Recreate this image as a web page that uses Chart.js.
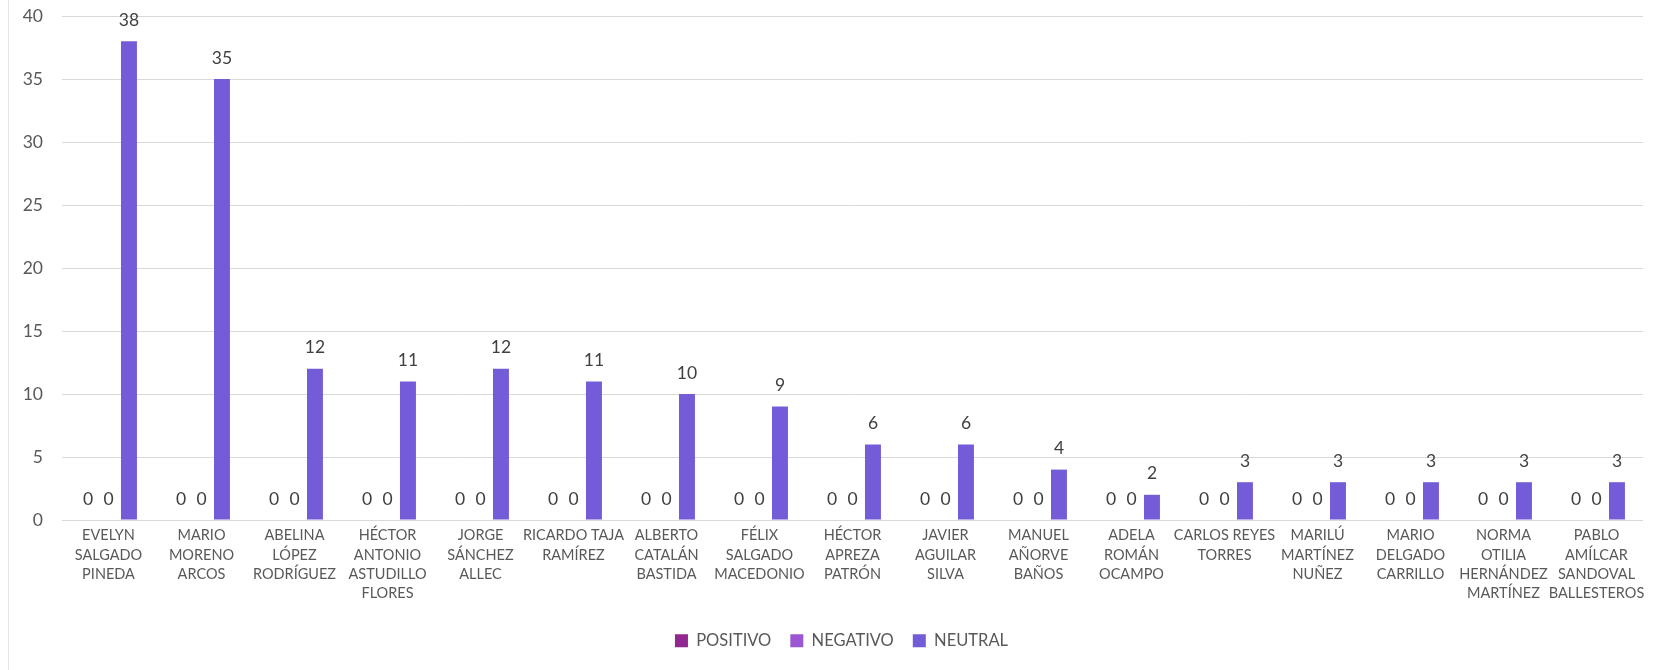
<!DOCTYPE html>
<html>
<head>
<meta charset="utf-8">
<script src="https://cdn.jsdelivr.net/npm/chart.js@4"></script>
<style>
html,body{margin:0;padding:0;background:#fff;}
#wrap{position:relative;width:1663px;height:670px;}
</style>
</head>
<body>
<div id="wrap"><canvas id="c" width="1663" height="670"></canvas></div>
<script>
const categories = [
  ["EVELYN","SALGADO","PINEDA"],
  ["MARIO","MORENO","ARCOS"],
  ["ABELINA","LÓPEZ","RODRÍGUEZ"],
  ["HÉCTOR","ANTONIO","ASTUDILLO","FLORES"],
  ["JORGE","SÁNCHEZ","ALLEC"],
  ["RICARDO TAJA","RAMÍREZ"],
  ["ALBERTO","CATALÁN","BASTIDA"],
  ["FÉLIX","SALGADO","MACEDONIO"],
  ["HÉCTOR","APREZA","PATRÓN"],
  ["JAVIER","AGUILAR","SILVA"],
  ["MANUEL","AÑORVE","BAÑOS"],
  ["ADELA","ROMÁN","OCAMPO"],
  ["CARLOS REYES","TORRES"],
  ["MARILÚ","MARTÍNEZ","NUÑEZ"],
  ["MARIO","DELGADO","CARRILLO"],
  ["NORMA","OTILIA","HERNÁNDEZ","MARTÍNEZ"],
  ["PABLO","AMÍLCAR","SANDOVAL","BALLESTEROS"]
];
const positivo = [0,0,0,0,0,0,0,0,0,0,0,0,0,0,0,0,0];
const negativo = [0,0,0,0,0,0,0,0,0,0,0,0,0,0,0,0,0];
const neutral  = [38,35,12,11,12,11,10,9,6,6,4,2,3,3,3,3,3];
const yTicks = [0,5,10,15,20,25,30,35,40];

const FONT = "Lato, 'Open Sans', sans-serif";

const labelPlugin = {
  id:'valueLabels',
  afterLayout(chart){
    const lg = chart.legend;
    lg.left += 15; lg.right += 15;
  },
  afterDatasetsDraw(chart){
    const ctx = chart.ctx;
    ctx.save();
    ctx.font = "17.5px " + FONT;
    ctx.fillStyle = '#404040';
    ctx.textAlign = 'center';
    ctx.textBaseline = 'middle';
    chart.data.datasets.forEach((ds, di) => {
      const meta = chart.getDatasetMeta(di);
      meta.data.forEach((bar, i) => {
        ctx.fillText(String(ds.data[i]), bar.x, bar.y - 21);
      });
    });
    ctx.restore();
  },
  beforeDraw(chart){
    const ctx = chart.ctx;
    ctx.save();
    ctx.strokeStyle = '#e3e3e3';
    ctx.lineWidth = 1;
    ctx.beginPath();
    ctx.moveTo(8.5, 0);
    ctx.lineTo(8.5, chart.height);
    ctx.stroke();
    ctx.restore();
  }
};

new Chart(document.getElementById('c'), {
  type:'bar',
  data:{
    labels: categories,
    datasets:[
      {label:'POSITIVO', data:positivo, backgroundColor:'#92278F'},
      {label:'NEGATIVO', data:negativo, backgroundColor:'#9B57D3'},
      {label:'NEUTRAL', data:neutral, backgroundColor:'#745CD8'}
    ]
  },
  options:{
    responsive:false,
    animation:false,
    devicePixelRatio:1,
    layout:{padding:{left:10, right:20, top:16, bottom:11}},
    datasets:{bar:{categoryPercentage:0.66, barPercentage:0.78}},
    plugins:{
      legend:{
        position:'bottom',
        labels:{
          font:{family:FONT, size:16.5},
          color:'#595959',
          boxWidth:13, boxHeight:13,
          padding:19
        }
      },
      tooltip:{enabled:false}
    },
    scales:{
      x:{
        afterFit(scale){ scale.height = 93.5; },
        grid:{display:false, tickLength:4},
        border:{display:false},
        ticks:{
          font:{family:FONT, size:14.5, lineHeight:1.33},
          color:'#595959',
          maxRotation:0, minRotation:0, autoSkip:false,
          padding:2
        }
      },
      y:{
        min:0, max:40,
        afterBuildTicks(scale){ scale.ticks = yTicks.map(v => ({value:v})); },
        afterFit(scale){ scale.width = 52; scale.paddingTop = 0; scale.paddingBottom = 0; },
        grid:{color:'#d9d9d9', drawTicks:false, lineWidth:1},
        border:{display:false},
        ticks:{
          font:{family:FONT, size:17.5},
          color:'#595959',
          padding:19
        }
      }
    }
  },
  plugins:[labelPlugin]
});
</script>
</body>
</html>
